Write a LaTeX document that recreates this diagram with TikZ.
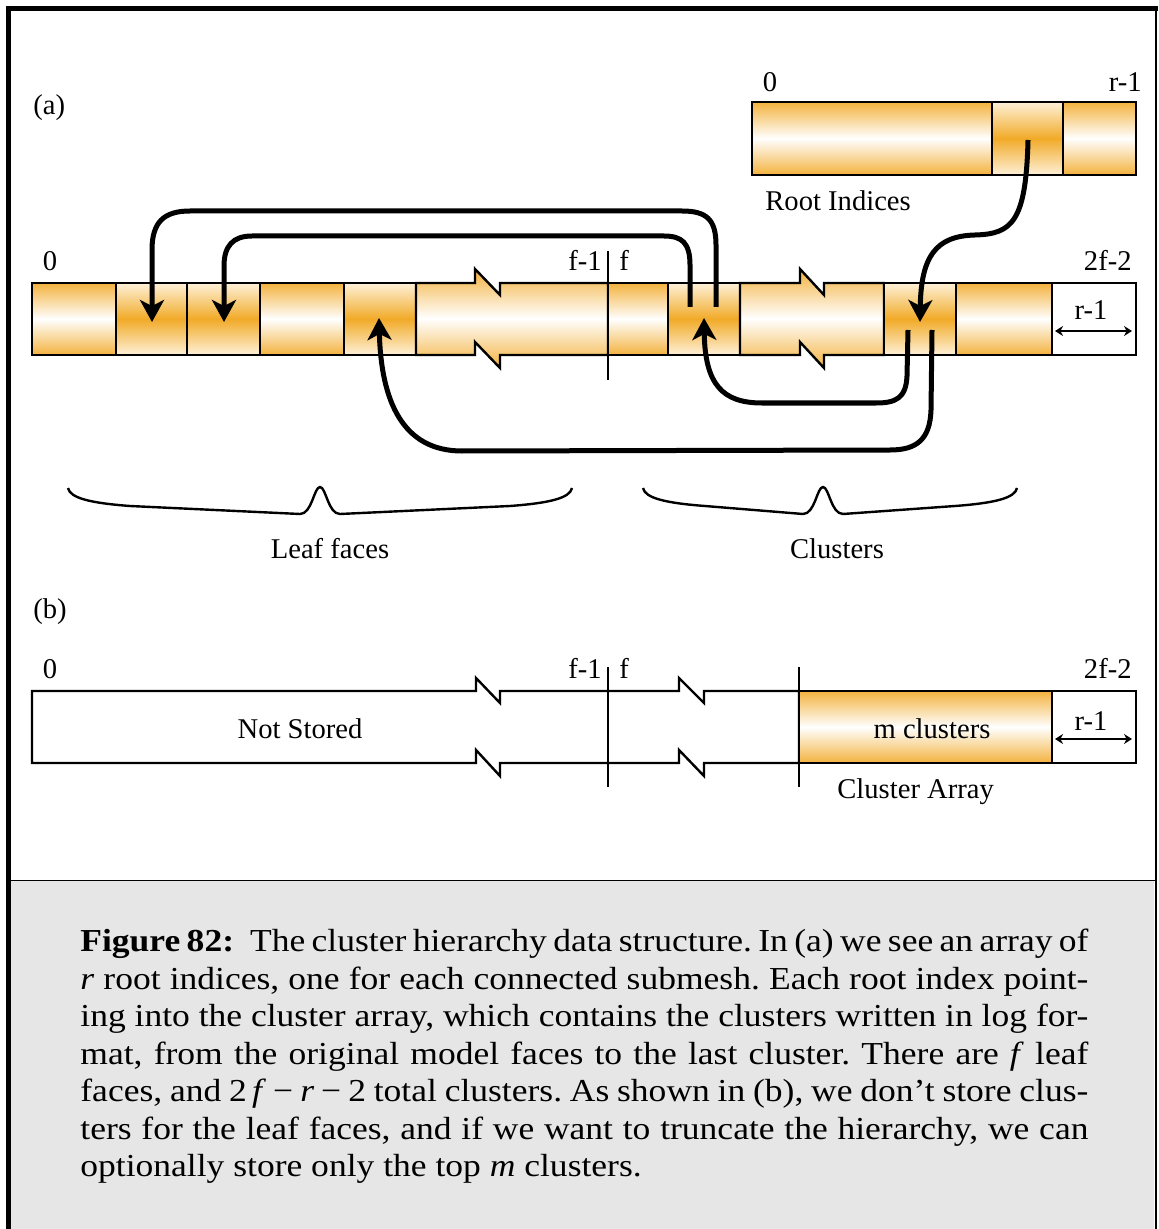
\documentclass[tikz,border=0pt]{standalone}
\usepackage{fontspec}
\setmainfont{Liberation Serif}
\newfontfamily\capfont{Liberation Serif}[FakeStretch=1.11]
\usetikzlibrary{arrows.meta}
\definecolor{gA}{RGB}{243,178,62}
\definecolor{gD}{RGB}{241,170,40}
\definecolor{gL}{RGB}{254,241,216}
\definecolor{capbg}{RGB}{230,230,230}
\newcommand{\FigBrace}[3]{%
\draw[brace] (#1,488) .. controls ({#1+2},498) and ({#1+22},503) .. ({#1+62},506) -- ({#2-20},514) .. controls ({#2-8},514) and ({#2-6},487) .. (#2,487) .. controls ({#2+6},487) and ({#2+8},514) .. ({#2+20},514) -- ({#3-62},506) .. controls ({#3-22},503) and ({#3-2},498) .. (#3,488);}
\begin{document}
\begin{tikzpicture}[x=0.5pt,y=-0.5pt,
  lbl/.style={font=\fontsize{14.3}{16}\selectfont, inner sep=0pt},
  ncell/.style={draw=black, line width=1.2pt, top color=gA, bottom color=gA, middle color=white},
  icell/.style={draw=black, line width=1.2pt, top color=gL, bottom color=gL, middle color=gD},
  wcell/.style={draw=black, line width=1.2pt, fill=white},
  ptr/.style={line width=2.5pt, -{Stealth[length=11pt,width=12pt,inset=3pt]}},
  rspan/.style={line width=0.8pt, {Stealth[length=4pt,width=5pt]}-{Stealth[length=4pt,width=5pt]}},
  brace/.style={line width=1.2pt},
  mark line/.style={line width=1.2pt}]
\useasboundingbox (0,0) rectangle (1158,1229);
% frame and caption background
\fill[capbg] (10,881) rectangle (1154,1229);
\draw[line width=0.75pt] (8,880.5) -- (1155,880.5);
\draw[line width=2.25pt] (8.3,6) -- (8.3,1229);
\draw[line width=2.25pt] (6,8.3) -- (1158,8.3);
\draw[line width=1pt] (1155.5,8) -- (1155.5,1229);

% ---------- (a) ----------
\node[lbl, anchor=base west] (la) at (33,115) {(a)};
% root indices array
\path[ncell] (752,102) rectangle (992,175);
\path[icell] (992,102) rectangle (1063,175);
\path[ncell] (1063,102) rectangle (1136,175);
\node[lbl, anchor=base] (r0) at (770,92) {0};
\node[lbl, anchor=base east] (rr) at (1142,92) {r-1};
\node[lbl, anchor=base west] (rootlbl) at (765,211) {Root Indices};

% main array
\path[ncell] (32,283) rectangle (116,355);
\path[icell] (116,283) rectangle (187,355);
\path[icell] (187,283) rectangle (260,355);
\path[ncell] (260,283) rectangle (344,355);
\path[icell] (344,283) rectangle (416,355);
\path[ncell] (416,283) -- (475,283) -- (475,269) -- (500,295) -- (500,283) -- (608,283) -- (608,355) -- (500,355) -- (500,368) -- (475,342) -- (475,355) -- (416,355) -- cycle;
\path[ncell] (608,283) rectangle (668,355);
\path[icell] (668,283) rectangle (740,355);
\path[ncell] (740,283) -- (800,283) -- (800,269) -- (824,295) -- (824,283) -- (884,283) -- (884,355) -- (824,355) -- (824,368) -- (800,342) -- (800,355) -- (740,355) -- cycle;
\path[icell] (884,283) rectangle (956,355);
\path[ncell] (956,283) rectangle (1052,355);
\path[wcell] (1052,283) rectangle (1136,355);
\draw[mark line] (608,251) -- (608,380);

\node[lbl, anchor=base] (a0) at (50,271) {0};
\node[lbl, anchor=base east] (afm) at (602,271) {f-1};
\node[lbl, anchor=base west] (af) at (619,271) {f};
\node[lbl, anchor=base east] (a2f) at (1132,271) {2f-2};
\node[lbl, anchor=base] (ar) at (1091,320) {r-1};
\coordinate (ra1) at (1055,331);
\coordinate (ra2) at (1132,331);
\draw[rspan] (ra1) -- (ra2);

% pointers
\coordinate (sA) at (716,307);
\coordinate (tA) at (152,322);
\coordinate (sB) at (690,307);
\coordinate (tB) at (224,322);
\coordinate (sC) at (1028,140);
\coordinate (tC) at (920,322);
\coordinate (sD) at (908,330);
\coordinate (tD) at (704,318);
\coordinate (sE) at (932,330);
\coordinate (tE) at (379,318);
\draw[ptr] (sA) -- (716,245) .. controls (716,219) and (706,211) .. (682,211) -- (190,211) .. controls (164,211) and (152,222) .. (152,250) -- (tA);
\draw[ptr] (sB) -- (690,265) .. controls (690,243) and (682,236) .. (664,236) -- (252,236) .. controls (233,236) and (224,246) .. (224,266) -- (tB);
\draw[ptr] (sC) .. controls (1026,222) and (1012,234) .. (975,235) .. controls (936,236) and (921,256) .. (tC);
\draw[ptr] (sD) -- (907,376) .. controls (906,398) and (896,403) .. (876,403) -- (762,403) .. controls (722,403) and (705,384) .. (tD);
\draw[ptr] (sE) -- (931,410) .. controls (930,440) and (916,450) .. (890,450) -- (462,451) .. controls (402,451) and (381,400) .. (tE);

% braces
\FigBrace{68}{320}{572}
\FigBrace{643}{823}{1017}
\node[lbl, anchor=base] (leaf) at (330,558) {Leaf faces};
\node[lbl, anchor=base] (clus) at (837,558) {Clusters};

% ---------- (b) ----------
\node[lbl, anchor=base west] (lb) at (33,618) {(b)};
\path[wcell] (32,691) -- (476,691) -- (476,678) -- (500,703) -- (500,691) -- (679,691) -- (679,678) -- (704,703) -- (704,691) -- (799,691) -- (799,763) -- (704,763) -- (704,776) -- (679,750) -- (679,763) -- (500,763) -- (500,776) -- (476,750) -- (476,763) -- (32,763) -- cycle;
\path[ncell] (799,691) rectangle (1052,763);
\path[wcell] (1052,691) rectangle (1136,763);
\draw[mark line] (608,667) -- (608,787);
\draw[mark line] (799,667) -- (799,787);
\node[lbl, anchor=base] (b0) at (50,678) {0};
\node[lbl, anchor=base east] (bfm) at (602,678) {f-1};
\node[lbl, anchor=base west] (bf) at (619,678) {f};
\node[lbl, anchor=base east] (b2f) at (1132,678) {2f-2};
\node[lbl, anchor=base] (notst) at (300,738) {Not Stored};
\node[lbl, anchor=base] (mcl) at (932,738) {m clusters};
\node[lbl, anchor=base] (br) at (1091,730) {r-1};
\coordinate (rb1) at (1055,739);
\coordinate (rb2) at (1132,739);
\draw[rspan] (rb1) -- (rb2);
\node[lbl, anchor=base west] (carr) at (837,798) {Cluster Array};

% ---------- caption ----------
\node[anchor=north west, inner sep=0pt,
      font=\capfont\fontsize{16}{18.75}\selectfont] (cap) at (80,929) {%
\vbox{\frenchspacing\hsize=504pt\baselineskip=18.75pt\lineskiplimit=-10pt
\hbox to 504pt{\textbf{Figure 82:}\enspace The cluster hierarchy data structure. In (a) we see an array of}
\hbox to 504pt{\textit{r} root indices, one for each connected submesh. Each root index point-}
\hbox to 504pt{ing into the cluster array, which contains the clusters written in log for-}
\hbox to 504pt{mat, from the original model faces to the last cluster. There are \textit{f} leaf}
\hbox to 504pt{faces, and 2\,\textit{f}\hspace{0.22em}−\hspace{0.22em}\textit{r}\hspace{0.22em}−\hspace{0.22em}2 total clusters. As shown in (b), we don’t store clus-}
\hbox to 504pt{ters for the leaf faces, and if we want to truncate the hierarchy, we can}
\hbox{optionally store only the top \textit{m} clusters.}}};
\end{tikzpicture}
\end{document}
